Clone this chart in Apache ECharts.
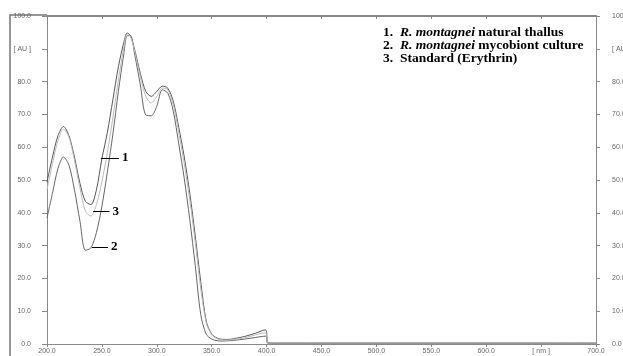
<!DOCTYPE html>
<html>
<head>
<meta charset="utf-8">
<script src="https://cdn.jsdelivr.net/npm/echarts@6/dist/echarts.min.js"></script>
<style>
html,body{margin:0;padding:0;background:#fff;}
#c{width:623px;height:356px;}
</style>
</head>
<body>
<div id="c"></div>
<script>
// Wavelengths (nm)
var wavelengths = [200,205,210,215,220,225,230,235,240,245,250,255,260,265,270,273,276,280,285,290,295,300,305,310,315,320,325,330,335,340,345,350,355,360,365,370,380,390,396,399,400,401,410,430,450,500,550,600,650,700];
// 1. R. montagnei natural thallus
var thallus = [49.4,57,63.5,66.3,63.5,57,49,43.5,42.5,47,56.5,64.5,74.5,84.5,92,94.8,94,89.5,82.5,77,75.5,77,78.6,78,74,66,57,46,33,19,7,3,1.8,1.4,1.4,1.6,2.3,3.3,4.1,4.3,3.5,0.4,0.3,0.3,0.3,0.3,0.3,0.3,0.3,0.3];
// 2. R. montagnei mycobiont culture
var mycobiont = [38.4,46,53.5,57,54.5,47,37.5,28.6,29.3,34,42,52.5,64,77,88.5,94,94,88,79,69.8,69.6,72.5,77.5,76.5,71,61,50.5,38,24,9,3,1.5,1,0.9,1,1.1,1.5,2,2.3,2.4,2,0.2,0.2,0.2,0.2,0.2,0.2,0.2,0.2,0.2];
// 3. Standard (Erythrin)
var standard = [47,55,62,65.5,63,56,47.5,40.5,39,42.5,49.5,58.5,69,80.5,90.5,94.5,93.8,89,81.5,75.5,73.5,75.5,78,77.5,73,64.5,55,44,31,17,6.5,2.8,1.6,1.2,1.2,1.4,1.9,2.8,3.3,3.4,2.8,0.3,0.3,0.3,0.3,0.3,0.3,0.3,0.3,0.3];

var yTicks = [0,10,20,30,40,50,60,70,80,90,100];
var xTicks = [200,250,300,350,400,450,500,550,600,650,700];

// annotation leaders: [startWl, startVal], endWl
var leaderLabels = ['1','2','3'];
var leaderStart = [[249,56.7],[241,29.6],[242,40.5]];
var leaderEndWl = [265.5,255.5,257];

function pairs(vals){ return wavelengths.map(function(w,i){return [w, vals[i]];}); }
function yFmt(v){ return v===90 ? '[ AU ]' : v.toFixed(1); }
function xFmt(v){ return v===650 ? '[ nm ]' : v.toFixed(1); }

function leader(i){
  return {
    silent:true, symbol:['none','none'],
    lineStyle:{color:'#000',width:1,type:'solid'},
    label:{show:true,position:'end',distance:3,formatter:leaderLabels[i],
      fontFamily:'Liberation Serif',fontWeight:'bold',fontSize:13,color:'#000'},
    data:[[{coord:leaderStart[i]},{coord:[leaderEndWl[i],leaderStart[i][1]]}]]
  };
}

var labelStyle = {fontFamily:'Liberation Sans',fontSize:7,color:'#666'};
var legendRich = {
  b:{fontFamily:'Liberation Serif',fontWeight:'bold',fontSize:13.5,fill:'#000'},
  i:{fontFamily:'Liberation Serif',fontWeight:'bold',fontStyle:'italic',fontSize:13.5,fill:'#000'}
};
var chart = echarts.init(document.getElementById('c'));
chart.setOption({
  animation:false,
  grid:{left:47,right:27,top:16,bottom:12,containLabel:false,outerBoundsMode:'none'},
  xAxis:[{
    type:'value',min:200,max:700,interval:50,position:'bottom',
    axisLine:{show:true,onZero:false,lineStyle:{color:'#888',width:1}},
    axisTick:{show:true,length:3,lineStyle:{color:'#888'}},
    splitLine:{show:false},
    axisLabel:Object.assign({margin:4,formatter:xFmt,showMinLabel:true,showMaxLabel:true},labelStyle)
  },{
    type:'value',min:200,max:700,interval:50,position:'top',
    axisLine:{show:true,onZero:false,lineStyle:{color:'#888',width:2}},
    axisTick:{show:true,inside:true,length:3,lineStyle:{color:'#888'}},
    axisLabel:{show:false},splitLine:{show:false}
  }],
  yAxis:[{
    type:'value',min:0,max:100,interval:10,position:'left',
    axisLine:{show:true,onZero:false,lineStyle:{color:'#888',width:1}},
    axisTick:{show:true,length:5,lineStyle:{color:'#888'}},
    splitLine:{show:false},
    axisLabel:Object.assign({margin:16,formatter:yFmt},labelStyle)
  },{
    type:'value',min:0,max:100,interval:10,position:'right',
    axisLine:{show:true,onZero:false,lineStyle:{color:'#888',width:1}},
    axisTick:{show:true,length:4,lineStyle:{color:'#888'}},
    splitLine:{show:false},
    axisLabel:Object.assign({margin:16,formatter:yFmt},labelStyle)
  }],
  series:[
    {name:'thallus',type:'line',data:pairs(thallus),showSymbol:false,smooth:0.3,
      lineStyle:{color:'#555',width:1},markLine:leader(0)},
    {name:'mycobiont',type:'line',data:pairs(mycobiont),showSymbol:false,smooth:0.3,
      lineStyle:{color:'#666',width:1},markLine:leader(1)},
    {name:'standard',type:'line',data:pairs(standard),showSymbol:false,smooth:0.3,
      lineStyle:{color:'#bbb',width:1},markLine:leader(2)}
  ],
  graphic:[
    {type:'polyline',silent:true,shape:{points:[[10,356],[10,15],[47,15]]},style:{stroke:'#777',lineWidth:1.5,fill:null}},
    {type:'text',left:383,top:26,style:{text:'{b|1.  }{i|R. montagnei}{b| natural thallus}',rich:legendRich}},
    {type:'text',left:383,top:39,style:{text:'{b|2.  }{i|R. montagnei}{b| mycobiont culture}',rich:legendRich}},
    {type:'text',left:383,top:52,style:{text:'{b|3.  Standard (Erythrin)}',rich:legendRich}}
  ]
});
</script>
</body>
</html>
